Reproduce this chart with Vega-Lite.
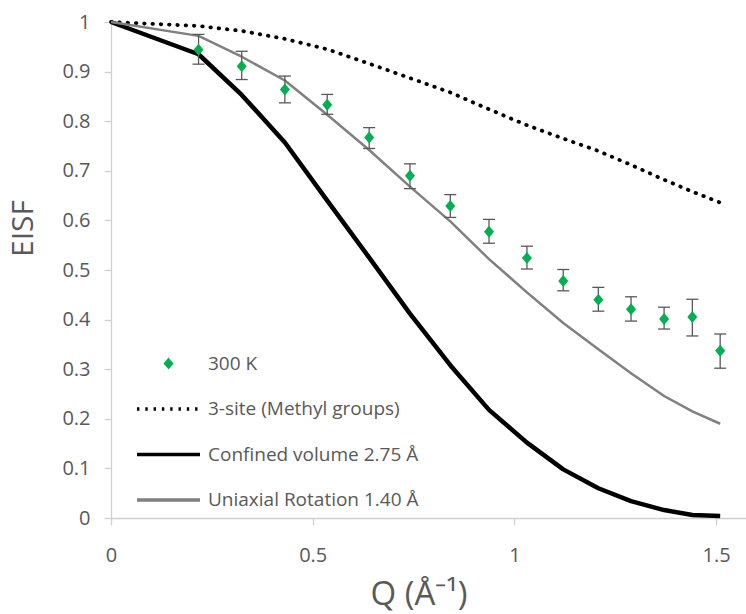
{
  "$schema": "https://vega.github.io/schema/vega-lite/v6.json",
  "width": 635,
  "height": 496,
  "autosize": {"type": "none"},
  "padding": {"left": 111, "top": 22, "right": 0, "bottom": 96},
  "background": "white",
  "config": {"view": {"stroke": null}, "font": "Open Sans"},
  "datasets": {
    "points": [
      {"Q": 0.217, "EISF": 0.944, "lo": 0.915, "hi": 0.975, "series": "300 K"},
      {"Q": 0.324, "EISF": 0.911, "lo": 0.884, "hi": 0.941, "series": "300 K"},
      {"Q": 0.431, "EISF": 0.864, "lo": 0.837, "hi": 0.891, "series": "300 K"},
      {"Q": 0.536, "EISF": 0.833, "lo": 0.814, "hi": 0.854, "series": "300 K"},
      {"Q": 0.640, "EISF": 0.767, "lo": 0.745, "hi": 0.787, "series": "300 K"},
      {"Q": 0.741, "EISF": 0.690, "lo": 0.664, "hi": 0.714, "series": "300 K"},
      {"Q": 0.841, "EISF": 0.629, "lo": 0.606, "hi": 0.652, "series": "300 K"},
      {"Q": 0.937, "EISF": 0.577, "lo": 0.554, "hi": 0.602, "series": "300 K"},
      {"Q": 1.031, "EISF": 0.524, "lo": 0.502, "hi": 0.548, "series": "300 K"},
      {"Q": 1.121, "EISF": 0.478, "lo": 0.458, "hi": 0.501, "series": "300 K"},
      {"Q": 1.208, "EISF": 0.440, "lo": 0.417, "hi": 0.465, "series": "300 K"},
      {"Q": 1.289, "EISF": 0.421, "lo": 0.397, "hi": 0.446, "series": "300 K"},
      {"Q": 1.371, "EISF": 0.401, "lo": 0.381, "hi": 0.425, "series": "300 K"},
      {"Q": 1.441, "EISF": 0.405, "lo": 0.367, "hi": 0.441, "series": "300 K"},
      {"Q": 1.510, "EISF": 0.337, "lo": 0.302, "hi": 0.371, "series": "300 K"}
    ],
    "threeSite": [
      {"Q": 0, "EISF": 1, "series": "3-site (Methyl groups)"},
      {"Q": 0.217, "EISF": 0.992, "series": "3-site (Methyl groups)"},
      {"Q": 0.324, "EISF": 0.982, "series": "3-site (Methyl groups)"},
      {"Q": 0.431, "EISF": 0.966, "series": "3-site (Methyl groups)"},
      {"Q": 0.536, "EISF": 0.945, "series": "3-site (Methyl groups)"},
      {"Q": 0.640, "EISF": 0.916, "series": "3-site (Methyl groups)"},
      {"Q": 0.741, "EISF": 0.887, "series": "3-site (Methyl groups)"},
      {"Q": 0.841, "EISF": 0.858, "series": "3-site (Methyl groups)"},
      {"Q": 0.937, "EISF": 0.824, "series": "3-site (Methyl groups)"},
      {"Q": 1.031, "EISF": 0.792, "series": "3-site (Methyl groups)"},
      {"Q": 1.121, "EISF": 0.765, "series": "3-site (Methyl groups)"},
      {"Q": 1.208, "EISF": 0.740, "series": "3-site (Methyl groups)"},
      {"Q": 1.289, "EISF": 0.712, "series": "3-site (Methyl groups)"},
      {"Q": 1.371, "EISF": 0.682, "series": "3-site (Methyl groups)"},
      {"Q": 1.441, "EISF": 0.658, "series": "3-site (Methyl groups)"},
      {"Q": 1.510, "EISF": 0.636, "series": "3-site (Methyl groups)"}
    ],
    "confined": [
      {"Q": 0, "EISF": 1, "series": "Confined volume 2.75 Å"},
      {"Q": 0.217, "EISF": 0.935, "series": "Confined volume 2.75 Å"},
      {"Q": 0.324, "EISF": 0.853, "series": "Confined volume 2.75 Å"},
      {"Q": 0.431, "EISF": 0.757, "series": "Confined volume 2.75 Å"},
      {"Q": 0.536, "EISF": 0.640, "series": "Confined volume 2.75 Å"},
      {"Q": 0.640, "EISF": 0.525, "series": "Confined volume 2.75 Å"},
      {"Q": 0.741, "EISF": 0.412, "series": "Confined volume 2.75 Å"},
      {"Q": 0.841, "EISF": 0.308, "series": "Confined volume 2.75 Å"},
      {"Q": 0.937, "EISF": 0.218, "series": "Confined volume 2.75 Å"},
      {"Q": 1.031, "EISF": 0.152, "series": "Confined volume 2.75 Å"},
      {"Q": 1.121, "EISF": 0.098, "series": "Confined volume 2.75 Å"},
      {"Q": 1.208, "EISF": 0.060, "series": "Confined volume 2.75 Å"},
      {"Q": 1.289, "EISF": 0.034, "series": "Confined volume 2.75 Å"},
      {"Q": 1.371, "EISF": 0.016, "series": "Confined volume 2.75 Å"},
      {"Q": 1.441, "EISF": 0.006, "series": "Confined volume 2.75 Å"},
      {"Q": 1.510, "EISF": 0.004, "series": "Confined volume 2.75 Å"}
    ],
    "uniaxial": [
      {"Q": 0, "EISF": 1, "series": "Uniaxial Rotation 1.40 Å"},
      {"Q": 0.217, "EISF": 0.972, "series": "Uniaxial Rotation 1.40 Å"},
      {"Q": 0.324, "EISF": 0.930, "series": "Uniaxial Rotation 1.40 Å"},
      {"Q": 0.431, "EISF": 0.882, "series": "Uniaxial Rotation 1.40 Å"},
      {"Q": 0.536, "EISF": 0.813, "series": "Uniaxial Rotation 1.40 Å"},
      {"Q": 0.640, "EISF": 0.742, "series": "Uniaxial Rotation 1.40 Å"},
      {"Q": 0.741, "EISF": 0.668, "series": "Uniaxial Rotation 1.40 Å"},
      {"Q": 0.841, "EISF": 0.598, "series": "Uniaxial Rotation 1.40 Å"},
      {"Q": 0.937, "EISF": 0.522, "series": "Uniaxial Rotation 1.40 Å"},
      {"Q": 1.031, "EISF": 0.455, "series": "Uniaxial Rotation 1.40 Å"},
      {"Q": 1.121, "EISF": 0.393, "series": "Uniaxial Rotation 1.40 Å"},
      {"Q": 1.208, "EISF": 0.340, "series": "Uniaxial Rotation 1.40 Å"},
      {"Q": 1.289, "EISF": 0.292, "series": "Uniaxial Rotation 1.40 Å"},
      {"Q": 1.371, "EISF": 0.246, "series": "Uniaxial Rotation 1.40 Å"},
      {"Q": 1.441, "EISF": 0.215, "series": "Uniaxial Rotation 1.40 Å"},
      {"Q": 1.510, "EISF": 0.190, "series": "Uniaxial Rotation 1.40 Å"}
    ]
  },
  "layer": [
    {
      "data": {"name": "threeSite"},
      "mark": {"type": "line", "strokeWidth": 3.8, "strokeDash": [0.5, 7.8], "strokeCap": "round"},
      "encoding": {
        "x": {
          "field": "Q", "type": "quantitative",
          "scale": {"domain": [0, 1.574], "nice": false, "zero": false},
          "axis": {
            "title": "Q (Å⁻¹)", "values": [0, 0.5, 1, 1.5], "format": "~g", "grid": false,
            "domainColor": "#d0d0d0", "domainWidth": 1.3, "tickColor": "#d0d0d0", "tickWidth": 1.3, "tickSize": 7,
            "labelFontSize": 20, "labelColor": "#595959", "labelPadding": 20, "labelFlush": false, "labelOverlap": false,
            "titleFontSize": 33, "titleFontWeight": "normal", "titleColor": "#595959",
            "titleX": 307.5, "titleY": 86, "titleBaseline": "alphabetic", "titleAlign": "center"
          }
        },
        "y": {
          "field": "EISF", "type": "quantitative",
          "scale": {"domain": [0, 1], "nice": false},
          "axis": {
            "title": "EISF", "values": [0, 0.1, 0.2, 0.3, 0.4, 0.5, 0.6, 0.7, 0.8, 0.9, 1], "format": "~g", "grid": false,
            "domainColor": "#d0d0d0", "domainWidth": 1.3, "tickColor": "#d0d0d0", "tickWidth": 1.3, "tickSize": 7,
            "labelFontSize": 20, "labelColor": "#595959", "labelPadding": 14, "labelOverlap": false,
            "titleFontSize": 30, "titleFontWeight": "normal", "titleColor": "#595959",
            "titleX": -79, "titleY": 206, "titleBaseline": "alphabetic", "titleAlign": "center", "titleAngle": -90
          }
        },
        "color": {
          "field": "series", "type": "nominal",
          "scale": {
            "domain": ["300 K", "3-site (Methyl groups)", "Confined volume 2.75 Å", "Uniaxial Rotation 1.40 Å"],
            "range": ["#00B050", "#000000", "#000000", "#808080"]
          },
          "legend": {
            "orient": "none", "legendX": 26, "legendY": 332, "direction": "vertical", "title": null,
            "padding": 0, "rowPadding": 25.5, "symbolOffset": 22, "labelOffset": 30,
            "labelFontSize": 19, "labelColor": "#595959", "labelFont": "Open Sans", "labelLimit": 400,
            "symbolSize": 100, "symbolOpacity": 1, "symbolStrokeWidth": 3.4
          }
        }
      }
    },
    {
      "data": {"name": "confined"},
      "mark": {"type": "line", "strokeWidth": 4.5, "strokeJoin": "round"},
      "encoding": {
        "x": {"field": "Q", "type": "quantitative"},
        "y": {"field": "EISF", "type": "quantitative"},
        "color": {"field": "series", "type": "nominal"}
      }
    },
    {
      "data": {"name": "uniaxial"},
      "mark": {"type": "line", "strokeWidth": 2.5, "strokeJoin": "round"},
      "encoding": {
        "x": {"field": "Q", "type": "quantitative"},
        "y": {"field": "EISF", "type": "quantitative"},
        "color": {"field": "series", "type": "nominal"}
      }
    },
    {
      "data": {"name": "points"},
      "mark": {"type": "rule", "color": "#595959", "strokeWidth": 1.3},
      "encoding": {
        "x": {"field": "Q", "type": "quantitative"},
        "y": {"field": "lo", "type": "quantitative"},
        "y2": {"field": "hi"}
      }
    },
    {
      "data": {"name": "points"},
      "mark": {"type": "tick", "orient": "horizontal", "size": 12, "thickness": 1.3, "color": "#595959", "opacity": 1},
      "encoding": {
        "x": {"field": "Q", "type": "quantitative"},
        "y": {"field": "lo", "type": "quantitative"}
      }
    },
    {
      "data": {"name": "points"},
      "mark": {"type": "tick", "orient": "horizontal", "size": 12, "thickness": 1.3, "color": "#595959", "opacity": 1},
      "encoding": {
        "x": {"field": "Q", "type": "quantitative"},
        "y": {"field": "hi", "type": "quantitative"}
      }
    },
    {
      "data": {"name": "points"},
      "mark": {"type": "point", "size": 331, "filled": true, "opacity": 1, "strokeOpacity": 0},
      "encoding": {
        "x": {"field": "Q", "type": "quantitative"},
        "y": {"field": "EISF", "type": "quantitative"},
        "color": {"field": "series", "type": "nominal"},
        "shape": {
          "field": "series", "type": "nominal",
          "scale": {
            "domain": ["300 K", "3-site (Methyl groups)", "Confined volume 2.75 Å", "Uniaxial Rotation 1.40 Å"],
            "range": ["M0,-0.66L0.55,0L0,0.66L-0.55,0Z", "M-6.3,0L6.3,0", "M-6.3,0L6.3,0", "M-6.3,0L6.3,0"]
          }
        },
        "strokeDash": {
          "field": "series", "type": "nominal",
          "scale": {
            "domain": ["300 K", "3-site (Methyl groups)", "Confined volume 2.75 Å", "Uniaxial Rotation 1.40 Å"],
            "range": [[1, 0], [2.4, 5.9], [1, 0], [1, 0]]
          }
        }
      }
    }
  ]
}
